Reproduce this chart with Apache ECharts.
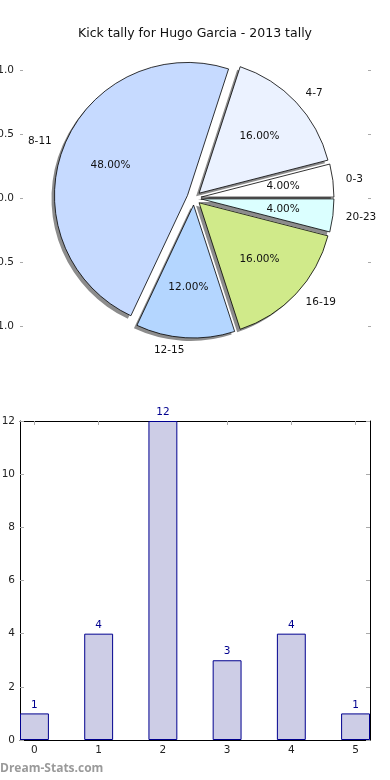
<!DOCTYPE html>
<html><head><meta charset="utf-8">
<script src="https://cdn.jsdelivr.net/npm/echarts@6/dist/echarts.min.js"></script>
<style>html,body{margin:0;padding:0;background:#fff}#c{width:390px;height:780px}</style>
</head><body><div id="c"></div>
<script>
const titleText = 'Kick tally for Hugo Garcia - 2013 tally';
const sliceNames = ['0-3','4-7','8-11','12-15','16-19','20-23'];
const sliceCounts = [1,4,12,3,4,1];
const sliceColors = ['#ffffff','#ebf2ff','#c6daff','#b4d6ff','#d0ea8a','#dbffff'];
const barCategories = ['0','1','2','3','4','5'];
const barValues = [1,4,12,3,4,1];
const watermark = 'Dream-Stats.com';

const FONT = 'DejaVu Sans';
const total = sliceCounts.reduce((a,b)=>a+b,0);
const R = 133;
const CENTER = [194, 198];
const SHADOW_CENTER = [CENTER[0]-3, CENTER[1]+3];
const tickStyle = {color:'#aaaaaa', width:1};
const frameLine = {show:true, onZero:false, lineStyle:{color:'#000', width:1}};
const pieCommon = {clockwise:false, startAngle:0, selectedMode:'multiple', selectedOffset:7,
  avoidLabelOverlap:false, emphasis:{disabled:true}, silent:true};

const chart = echarts.init(document.getElementById('c'), null, {renderer:'canvas'});
chart.setOption({
  animation:false,
  title:{text:titleText, left:'center', top:22, textStyle:{fontFamily:FONT, fontSize:12.5, fontWeight:'normal', color:'#111'}},
  graphic:[{type:'text', left:0, top:763, style:{text:watermark, fontFamily:'Open Sans', fontWeight:'bold', fontSize:12, fill:'#9a9a9a'}}],
  grid:[
    {left:20, right:19, top:70, height:256, show:false, outerBoundsMode:'none', containLabel:false},
    {left:20, right:20, top:421, bottom:40, show:false, outerBoundsMode:'none', containLabel:false}
  ],
  xAxis:[
    {gridIndex:0, type:'value', show:false, min:-1, max:1},
    {gridIndex:1, type:'value', min:-0.225, max:5.225, position:'bottom', splitLine:{show:false},
      axisLine:frameLine,
      axisTick:{show:true, inside:true, length:4, lineStyle:tickStyle, customValues:barCategories.map(Number)},
      axisLabel:{fontFamily:FONT, fontSize:10.5, color:'#222', margin:5, customValues:barCategories.map(Number), formatter:v=>barCategories[Math.round(v)]}},
    {gridIndex:1, type:'value', min:-0.225, max:5.225, position:'top', splitLine:{show:false},
      axisLine:frameLine,
      axisTick:{show:true, inside:true, length:4, lineStyle:tickStyle, customValues:barCategories.map(Number)},
      axisLabel:{show:false}}
  ],
  yAxis:[
    {gridIndex:0, type:'value', min:-1, max:1, interval:0.5, position:'left', splitLine:{show:false},
      axisLine:{show:false, onZero:false}, axisTick:{show:true, inside:true, length:3, lineStyle:tickStyle},
      axisLabel:{fontFamily:FONT, fontSize:10.5, color:'#222', margin:6, formatter:v=>v.toFixed(1)}},
    {gridIndex:0, type:'value', min:-1, max:1, interval:0.5, position:'right', splitLine:{show:false},
      axisLine:{show:false, onZero:false}, axisTick:{show:true, inside:true, length:3, lineStyle:tickStyle}, axisLabel:{show:false}},
    {gridIndex:1, type:'value', min:0, max:12, interval:2, position:'left', splitLine:{show:false},
      axisLine:frameLine, axisTick:{show:true, inside:true, length:4, lineStyle:tickStyle},
      axisLabel:{fontFamily:FONT, fontSize:10.5, color:'#222', margin:5}},
    {gridIndex:1, type:'value', min:0, max:12, interval:2, position:'right', splitLine:{show:false},
      axisLine:frameLine, axisTick:{show:true, inside:true, length:4, lineStyle:tickStyle}, axisLabel:{show:false}}
  ],
  series:[
    Object.assign({}, pieCommon, {
      type:'pie', center:SHADOW_CENTER, radius:R, z:1,
      itemStyle:{color:'#8c8c8c', borderWidth:0},
      select:{itemStyle:{color:'#8c8c8c', borderWidth:0}},
      label:{show:false}, labelLine:{show:false},
      data:sliceNames.map((n,i)=>({name:n, value:sliceCounts[i], selected:true}))
    }),
    Object.assign({}, pieCommon, {
      type:'pie', center:CENTER, radius:R, z:2,
      itemStyle:{borderColor:'#000', borderWidth:0.8},
      label:{show:true, position:'outside', fontFamily:FONT, fontSize:10.5, color:'#111', distanceToLabelLine:0},
      labelLine:{show:false, length:13, length2:0},
      data:sliceNames.map((n,i)=>({name:n, value:sliceCounts[i], selected:true,
        itemStyle:{color:sliceColors[i]}, select:{itemStyle:{color:sliceColors[i], borderColor:'#000', borderWidth:0.8}}}))
    }),
    Object.assign({}, pieCommon, {
      type:'pie', center:CENTER, radius:[R*0.2, R], z:3,
      itemStyle:{color:'rgba(0,0,0,0)', borderWidth:0},
      select:{itemStyle:{color:'rgba(0,0,0,0)', borderWidth:0}},
      label:{show:true, position:'inside', fontFamily:FONT, fontSize:10.5, color:'#111',
        formatter:p=>(p.value/total*100).toFixed(2)+'%'},
      labelLine:{show:false},
      data:sliceNames.map((n,i)=>({name:n, value:sliceCounts[i], selected:true}))
    }),
    {
      type:'bar', xAxisIndex:1, yAxisIndex:2, barWidth:'45%', clip:false,
      itemStyle:{color:'#cdcde6', borderColor:'#00008f', borderWidth:1},
      label:{show:true, position:'top', distance:3, fontFamily:FONT, fontSize:10.5, color:'#00008f'},
      emphasis:{disabled:true},
      data:barValues.map((v,i)=>[Number(barCategories[i]), v])
    }
  ]
});
</script></body></html>
